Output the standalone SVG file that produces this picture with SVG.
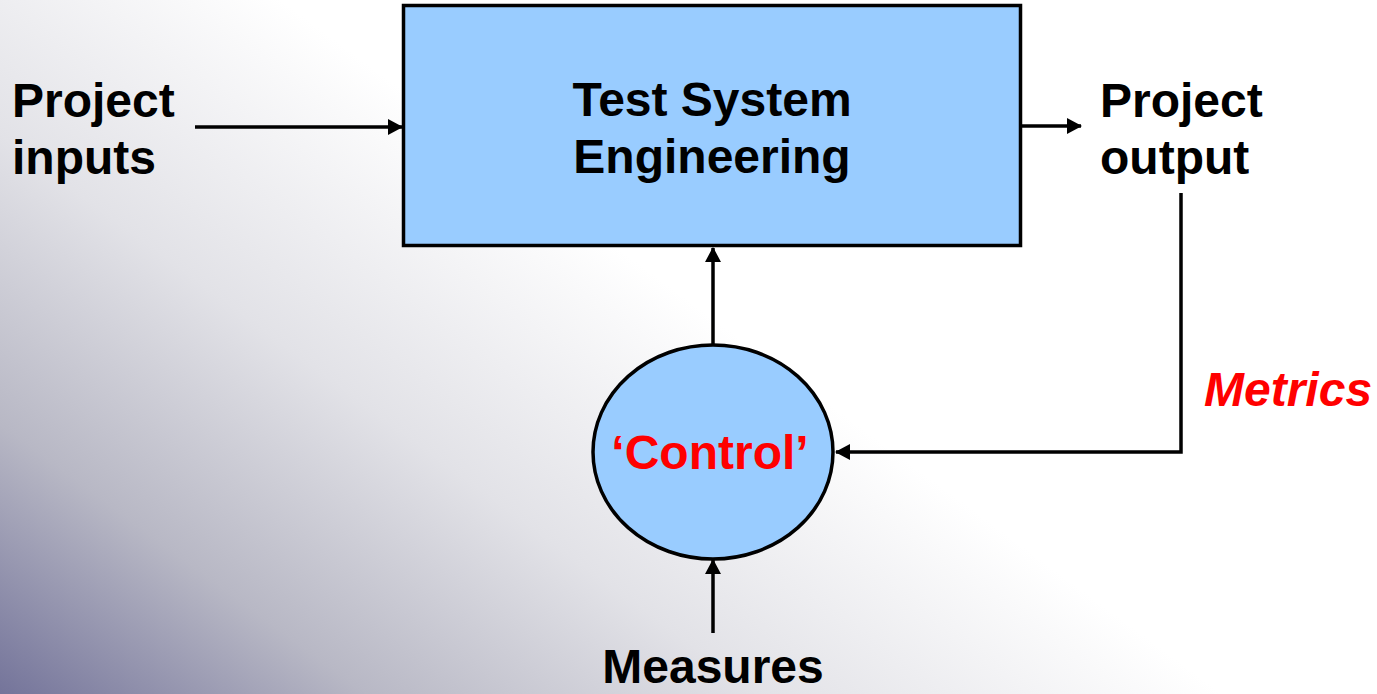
<svg xmlns="http://www.w3.org/2000/svg" width="1377" height="694" viewBox="0 0 1377 694">
  <defs>
    <linearGradient id="bg" gradientUnits="userSpaceOnUse" x1="0" y1="694" x2="430" y2="110">
      <stop offset="0" stop-color="#74749a"/>
      <stop offset="0.3" stop-color="#b8b8c5"/>
      <stop offset="0.62" stop-color="#e2e2e7"/>
      <stop offset="1" stop-color="#ffffff"/>
    </linearGradient>
    <marker id="arr" viewBox="0 0 15 16" refX="14" refY="8" markerWidth="15" markerHeight="16" markerUnits="userSpaceOnUse" orient="auto">
      <path d="M0,0 L15,8 L0,16 Z" fill="#000"/>
    </marker>
    <style>
      .lbl { font-family: "Liberation Sans", Arial, sans-serif; font-weight: bold; font-size: 48px; fill: #000; }
      .red { fill: #ff0000; }
      .conn { stroke: #000; stroke-width: 3.5; fill: none; }
      .shape { fill: #99ccff; stroke: #000; stroke-width: 3.5; }
    </style>
  </defs>
  <rect x="0" y="0" width="1377" height="694" fill="url(#bg)"/>

  <g id="connectors">
    <line class="conn" x1="195" y1="127" x2="402" y2="127" marker-end="url(#arr)"/>
    <line class="conn" x1="1022" y1="126" x2="1081" y2="126" marker-end="url(#arr)"/>
    <polyline class="conn" points="1181,193 1181,452 836,452" marker-end="url(#arr)"/>
    <line class="conn" x1="713" y1="345" x2="713" y2="248" marker-end="url(#arr)"/>
    <line class="conn" x1="713" y1="633" x2="713" y2="560" marker-end="url(#arr)"/>
  </g>

  <g id="tse">
    <rect class="shape" x="403.5" y="5.5" width="617" height="240"/>
    <text class="lbl" x="712" y="116" text-anchor="middle">Test System</text>
    <text class="lbl" x="712" y="173" text-anchor="middle">Engineering</text>
  </g>

  <g id="control">
    <ellipse class="shape" cx="713" cy="452" rx="120" ry="107"/>
    <text class="lbl red" x="710" y="469" text-anchor="middle">‘Control’</text>
  </g>

  <g id="inputs">
    <text class="lbl" x="12" y="117">Project</text>
    <text class="lbl" x="12" y="174">inputs</text>
  </g>

  <g id="output">
    <text class="lbl" x="1100" y="117">Project</text>
    <text class="lbl" x="1100" y="174">output</text>
  </g>

  <g id="metrics">
    <text class="lbl red" x="1204" y="406" font-style="italic">Metrics</text>
  </g>

  <g id="measures">
    <text class="lbl" x="713" y="683" text-anchor="middle">Measures</text>
  </g>
</svg>
